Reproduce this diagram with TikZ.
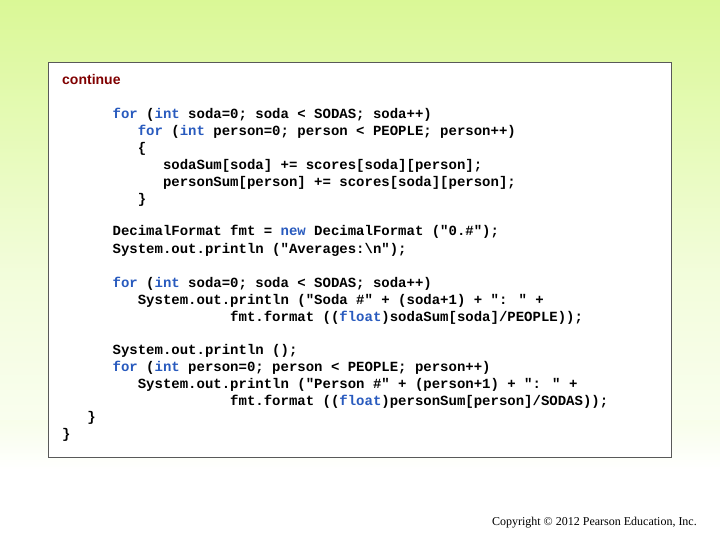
\documentclass[tikz,border=0pt]{standalone}
\usepackage{fontspec}
\setmainfont{Liberation Serif}
\newfontfamily\codef{Liberation Mono}
\newfontfamily\arialf{Liberation Sans}
\definecolor{kw}{RGB}{40,90,190}
\definecolor{cont}{RGB}{128,0,0}
\definecolor{topg}{RGB}{218,248,150}
\newcommand{\kw}[1]{\textcolor{kw}{#1}}
\begin{document}
\begin{tikzpicture}[x=1pt,y=-1pt,
  cl/.style={anchor=base west,inner sep=0pt,font=\codef\bfseries\fontsize{14}{17}\selectfont}]
\useasboundingbox (0,0) rectangle (720,540);
\shade[top color=topg,bottom color=white,middle color=topg!35] (0,0) rectangle (720,540);
\fill[white] (0,470) rectangle (720,540);
\shade[top color=topg!20,bottom color=white] (0,420) rectangle (720,470);
\draw[gray!70!black,fill=white,line width=0.8pt] (48,62) rectangle (671,457);
\node[anchor=base west,inner sep=0pt,text=cont,font=\arialf\bfseries\fontsize{14}{17}\selectfont] (c0) at (62,85) {continue};
\def\cx#1{62+#1*8.4}
\node[cl] (l1) at (\cx{6},119) {\kw{for} (\kw{int} soda=0; soda < SODAS; soda++)};
\node[cl] (l2) at (\cx{9},136) {\kw{for} (\kw{int} person=0; person < PEOPLE; person++)};
\node[cl] (l3) at (\cx{9},153) {\{};
\node[cl] (l4) at (\cx{12},170) {sodaSum[soda] += scores[soda][person];};
\node[cl] (l5) at (\cx{12},187) {personSum[person] += scores[soda][person];};
\node[cl] (l6) at (\cx{9},204) {\}};
\node[cl] (l7) at (\cx{6},236) {DecimalFormat fmt = \kw{new} DecimalFormat ("0.\#");};
\node[cl] (l8) at (\cx{6},253) {System.out.println ("Averages:\textbackslash n");};
\node[cl] (l9) at (\cx{6},287) {\kw{for} (\kw{int} soda=0; soda < SODAS; soda++)};
\node[cl] (l10) at (\cx{9},304) {System.out.println ("Soda \#" + (soda+1) + ": " +};
\node[cl] (l11) at (\cx{20},321) {fmt.format ((\kw{float})sodaSum[soda]/PEOPLE));};
\node[cl] (l12) at (\cx{6},354) {System.out.println ();};
\node[cl] (l13) at (\cx{6},371) {\kw{for} (\kw{int} person=0; person < PEOPLE; person++)};
\node[cl] (l14) at (\cx{9},388) {System.out.println ("Person \#" + (person+1) + ": " +};
\node[cl] (l15) at (\cx{20},405) {fmt.format ((\kw{float})personSum[person]/SODAS));};
\node[cl] (l16) at (\cx{3},421) {\}};
\node[cl] (l17) at (\cx{0},438) {\}};
\node[anchor=base east,inner sep=0pt,font=\fontsize{12}{14}\selectfont] (cp) at (697,525) {Copyright © 2012 Pearson Education, Inc.};
\end{tikzpicture}
\end{document}
